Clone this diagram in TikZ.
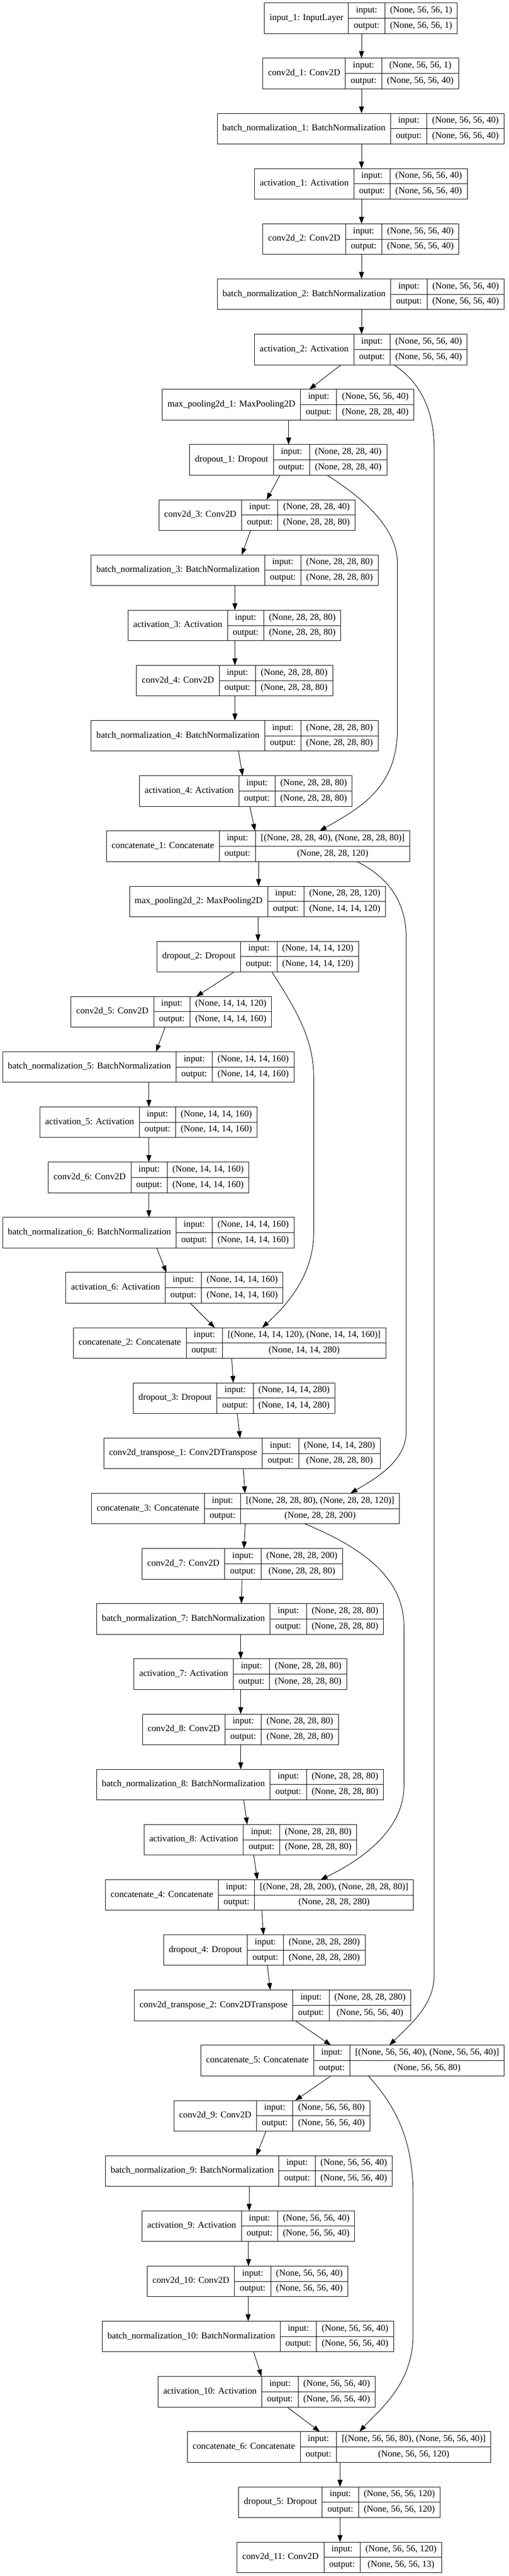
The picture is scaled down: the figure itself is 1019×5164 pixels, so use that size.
\documentclass[tikz,border=0pt]{standalone}
\usepackage{fontspec}
\setmainfont{Liberation Serif}
\usetikzlibrary{arrows.meta}
\newcommand\lfont{\fontsize{18.2}{21}\selectfont}
\newcommand\LX[1]{\csname LX#1\endcsname}
% box as wide as the wider of two texts, first text centred in it
\newcommand\sizedtext[2]{\ooalign{\hfil#1\hfil\cr\hfil\phantom{#2}\hfil\cr}}
\tikzset{
  cellbase/.style={draw=black, line width=1pt, outer sep=0pt, inner ysep=0pt, font=\lfont, text height=12.5pt, text depth=4.5pt, anchor=north west, inner xsep=10.5pt},
  namecell/.style={cellbase, minimum height=61.3pt},
  halfcell/.style={cellbase, minimum height=30.65pt},
  conn/.style={draw=black, line width=1pt, -{Triangle[length=14pt,width=10pt]}}
}
% #1 id, #2 row, #3 left x, #4 label, #5 input shape, #6 output shape
\newcommand\layer[6]{%
  \expandafter\def\csname LX#1\endcsname{#3}%
  \node[namecell] (#1) at ({#3},{6+110.65*#2}) {#4};
  \node[halfcell] (#1i) at (#1.north east) {\sizedtext{input:}{output:}};
  \node[halfcell] (#1o) at (#1i.south west) {\sizedtext{output:}{input:}};
  \node[halfcell] (#1si) at (#1i.north east) {\sizedtext{#5}{#6}};
  \node[halfcell] (#1so) at (#1si.south west) {\sizedtext{#6}{#5}};
}
\newcommand\sedge[4]{\draw[conn] ([xshift={#2-\LX{#1}}]#1.south west) -- ([xshift={#4-\LX{#3}}]#3.north west);}
\begin{document}
\begin{tikzpicture}[x=1pt, y=-1pt]
\fill[white] (0,0) rectangle (1019,5164);
\useasboundingbox (0,0) rectangle (1019,5164);

\layer{in1}{0}{529.5}{input\_1: InputLayer}{(None, 56, 56, 1)}{(None, 56, 56, 1)}
\layer{c1}{1}{526.3}{conv2d\_1: Conv2D}{(None, 56, 56, 1)}{(None, 56, 56, 40)}
\layer{bn1}{2}{434.8}{batch\_normalization\_1: BatchNormalization}{(None, 56, 56, 40)}{(None, 56, 56, 40)}
\layer{a1}{3}{509.8}{activation\_1: Activation}{(None, 56, 56, 40)}{(None, 56, 56, 40)}
\layer{c2}{4}{526.5}{conv2d\_2: Conv2D}{(None, 56, 56, 40)}{(None, 56, 56, 40)}
\layer{bn2}{5}{435.2}{batch\_normalization\_2: BatchNormalization}{(None, 56, 56, 40)}{(None, 56, 56, 40)}
\layer{a2}{6}{509.7}{activation\_2: Activation}{(None, 56, 56, 40)}{(None, 56, 56, 40)}
\layer{mp1}{7}{325}{max\_pooling2d\_1: MaxPooling2D}{(None, 56, 56, 40)}{(None, 28, 28, 40)}
\layer{d1}{8}{380}{dropout\_1: Dropout}{(None, 28, 28, 40)}{(None, 28, 28, 40)}
\layer{c3}{9}{318.4}{conv2d\_3: Conv2D}{(None, 28, 28, 40)}{(None, 28, 28, 80)}
\layer{bn3}{10}{182.6}{batch\_normalization\_3: BatchNormalization}{(None, 28, 28, 80)}{(None, 28, 28, 80)}
\layer{a3}{11}{256.7}{activation\_3: Activation}{(None, 28, 28, 80)}{(None, 28, 28, 80)}
\layer{c4}{12}{273.6}{conv2d\_4: Conv2D}{(None, 28, 28, 80)}{(None, 28, 28, 80)}
\layer{bn4}{13}{182.6}{batch\_normalization\_4: BatchNormalization}{(None, 28, 28, 80)}{(None, 28, 28, 80)}
\layer{a4}{14}{279.4}{activation\_4: Activation}{(None, 28, 28, 80)}{(None, 28, 28, 80)}
\layer{cat1}{15}{213}{concatenate\_1: Concatenate}{[(None, 28, 28, 40), (None, 28, 28, 80)]}{(None, 28, 28, 120)}
\layer{mp2}{16}{259.3}{max\_pooling2d\_2: MaxPooling2D}{(None, 28, 28, 120)}{(None, 14, 14, 120)}
\layer{d2}{17}{314.5}{dropout\_2: Dropout}{(None, 14, 14, 120)}{(None, 14, 14, 120)}
\layer{c5}{18}{142.3}{conv2d\_5: Conv2D}{(None, 14, 14, 120)}{(None, 14, 14, 160)}
\layer{bn5}{19}{5.2}{batch\_normalization\_5: BatchNormalization}{(None, 14, 14, 160)}{(None, 14, 14, 160)}
\layer{a5}{20}{80}{activation\_5: Activation}{(None, 14, 14, 160)}{(None, 14, 14, 160)}
\layer{c6}{21}{96.8}{conv2d\_6: Conv2D}{(None, 14, 14, 160)}{(None, 14, 14, 160)}
\layer{bn6}{22}{5.2}{batch\_normalization\_6: BatchNormalization}{(None, 14, 14, 160)}{(None, 14, 14, 160)}
\layer{a6}{23}{131.9}{activation\_6: Activation}{(None, 14, 14, 160)}{(None, 14, 14, 160)}
\layer{cat2}{24}{146.8}{concatenate\_2: Concatenate}{[(None, 14, 14, 120), (None, 14, 14, 160)]}{(None, 14, 14, 280)}
\layer{d3}{25}{267}{dropout\_3: Dropout}{(None, 14, 14, 280)}{(None, 14, 14, 280)}
\layer{ct1}{26}{208}{conv2d\_transpose\_1: Conv2DTranspose}{(None, 14, 14, 280)}{(None, 28, 28, 80)}
\layer{cat3}{27}{183.2}{concatenate\_3: Concatenate}{[(None, 28, 28, 80), (None, 28, 28, 120)]}{(None, 28, 28, 200)}
\layer{c7}{28}{284.6}{conv2d\_7: Conv2D}{(None, 28, 28, 200)}{(None, 28, 28, 80)}
\layer{bn7}{29}{193.6}{batch\_normalization\_7: BatchNormalization}{(None, 28, 28, 80)}{(None, 28, 28, 80)}
\layer{a7}{30}{268.4}{activation\_7: Activation}{(None, 28, 28, 80)}{(None, 28, 28, 80)}
\layer{c8}{31}{285.2}{conv2d\_8: Conv2D}{(None, 28, 28, 80)}{(None, 28, 28, 80)}
\layer{bn8}{32}{193.6}{batch\_normalization\_8: BatchNormalization}{(None, 28, 28, 80)}{(None, 28, 28, 80)}
\layer{a8}{33}{288.5}{activation\_8: Activation}{(None, 28, 28, 80)}{(None, 28, 28, 80)}
\layer{cat4}{34}{211.2}{concatenate\_4: Concatenate}{[(None, 28, 28, 200), (None, 28, 28, 80)]}{(None, 28, 28, 280)}
\layer{d4}{35}{327.5}{dropout\_4: Dropout}{(None, 28, 28, 280)}{(None, 28, 28, 280)}
\layer{ct2}{36}{269}{conv2d\_transpose\_2: Conv2DTranspose}{(None, 28, 28, 280)}{(None, 56, 56, 40)}
\layer{cat5}{37}{402.2}{concatenate\_5: Concatenate}{[(None, 56, 56, 40), (None, 56, 56, 40)]}{(None, 56, 56, 80)}
\layer{c9}{38}{348.3}{conv2d\_9: Conv2D}{(None, 56, 56, 80)}{(None, 56, 56, 40)}
\layer{bn9}{39}{211.2}{batch\_normalization\_9: BatchNormalization}{(None, 56, 56, 40)}{(None, 56, 56, 40)}
\layer{a9}{40}{284.6}{activation\_9: Activation}{(None, 56, 56, 40)}{(None, 56, 56, 40)}
\layer{c10}{41}{295}{conv2d\_10: Conv2D}{(None, 56, 56, 40)}{(None, 56, 56, 40)}
\layer{bn10}{42}{204.7}{batch\_normalization\_10: BatchNormalization}{(None, 56, 56, 40)}{(None, 56, 56, 40)}
\layer{a10}{43}{316.4}{activation\_10: Activation}{(None, 56, 56, 40)}{(None, 56, 56, 40)}
\layer{cat6}{44}{375.3}{concatenate\_6: Concatenate}{[(None, 56, 56, 80), (None, 56, 56, 40)]}{(None, 56, 56, 120)}
\layer{d5}{45}{477.8}{dropout\_5: Dropout}{(None, 56, 56, 120)}{(None, 56, 56, 120)}
\layer{c11}{46}{474.7}{conv2d\_11: Conv2D}{(None, 56, 56, 120)}{(None, 56, 56, 13)}

% straight / diagonal connectors
\sedge{in1}{724}{c1}{724}
\sedge{c1}{724}{bn1}{724}
\sedge{bn1}{724}{a1}{724}
\sedge{a1}{724}{c2}{724}
\sedge{c2}{724}{bn2}{724}
\sedge{bn2}{724}{a2}{724}
\sedge{a2}{683.2}{mp1}{619.4}
\sedge{mp1}{578}{d1}{578}
\sedge{d1}{560.8}{c3}{534}
\sedge{c3}{502}{bn3}{484}
\sedge{bn3}{470.4}{a3}{470.4}
\sedge{a3}{470.4}{c4}{470.4}
\sedge{c4}{470.4}{bn4}{470.4}
\sedge{bn4}{477.6}{a4}{486}
\sedge{a4}{500.3}{cat1}{510.7}
\sedge{cat1}{517.9}{mp2}{517.9}
\sedge{mp2}{516.6}{d2}{516.6}
\sedge{d2}{469}{c5}{393}
\sedge{c5}{330.7}{bn5}{312.5}
\sedge{bn5}{298.2}{a5}{298.2}
\sedge{a5}{298.2}{c6}{298.2}
\sedge{c6}{298.2}{bn6}{298.2}
\sedge{bn6}{313.8}{a6}{333.3}
\sedge{a6}{380.8}{cat2}{430.1}
\sedge{cat2}{464}{d3}{467.2}
\sedge{d3}{475}{ct1}{480.8}
\sedge{ct1}{487.3}{cat3}{490.6}
\sedge{cat3}{491.2}{c7}{488.6}
\sedge{c7}{484.7}{bn7}{483.4}
\sedge{bn7}{482.1}{a7}{482.1}
\sedge{a7}{482.1}{c8}{482.1}
\sedge{c8}{482.1}{bn8}{482.1}
\sedge{bn8}{488}{a8}{495.1}
\sedge{a8}{508.1}{cat4}{515.3}
\sedge{cat4}{524.4}{d4}{527.6}
\sedge{d4}{535.4}{ct2}{541.3}
\sedge{ct2}{591.3}{cat5}{662.8}
\sedge{cat5}{662.8}{c9}{591.3}
\sedge{c9}{532.8}{bn9}{513.3}
\sedge{bn9}{499}{a9}{499}
\sedge{a9}{497.7}{c10}{497.7}
\sedge{c10}{497}{bn10}{497}
\sedge{bn10}{508}{a10}{523.7}
\sedge{a10}{575}{cat6}{640.5}
\sedge{cat6}{681}{d5}{681}
\sedge{d5}{681}{c11}{681}

% skip connections
\draw[conn] ([xshift={788.8-\LX{a2}}]a2.south west) .. controls (840,765) and (869.5,820) .. (869.5,900)
  -- (869.5,3960) .. controls (869.5,4020) and (820,4060) .. ([xshift={779.7-\LX{cat5}}]cat5.north west);
\draw[conn] ([xshift={655-\LX{d1}}]d1.south west) .. controls (730,1000) and (796,1060) .. (796,1130)
  -- (796,1460) .. controls (796,1580) and (720,1620) .. ([xshift={640-\LX{cat1}}]cat1.north west);
\draw[conn] ([xshift={714.7-\LX{cat1}}]cat1.south west) .. controls (780,1760) and (813.5,1810) .. (813.5,1880)
  -- (813.5,2870) .. controls (813.5,2930) and (750,2965) .. ([xshift={701.8-\LX{cat3}}]cat3.north west);
\draw[conn] ([xshift={544.5-\LX{d2}}]d2.south west) .. controls (590,2020) and (628.3,2080) .. (628.3,2160)
  -- (628.3,2470) .. controls (628.3,2560) and (570,2620) .. ([xshift={525-\LX{cat2}}]cat2.north west);
\draw[conn] ([xshift={610.8-\LX{cat3}}]cat3.south west) .. controls (720,3100) and (809,3160) .. (809,3260)
  -- (809,3580) .. controls (809,3680) and (700,3740) .. ([xshift={642-\LX{cat4}}]cat4.north west);
\draw[conn] ([xshift={737.5-\LX{cat5}}]cat5.south west) .. controls (800,4230) and (827.2,4300) .. (827.2,4400)
  -- (827.2,4680) .. controls (827.2,4780) and (760,4830) .. ([xshift={720-\LX{cat6}}]cat6.north west);
\end{tikzpicture}
\end{document}
